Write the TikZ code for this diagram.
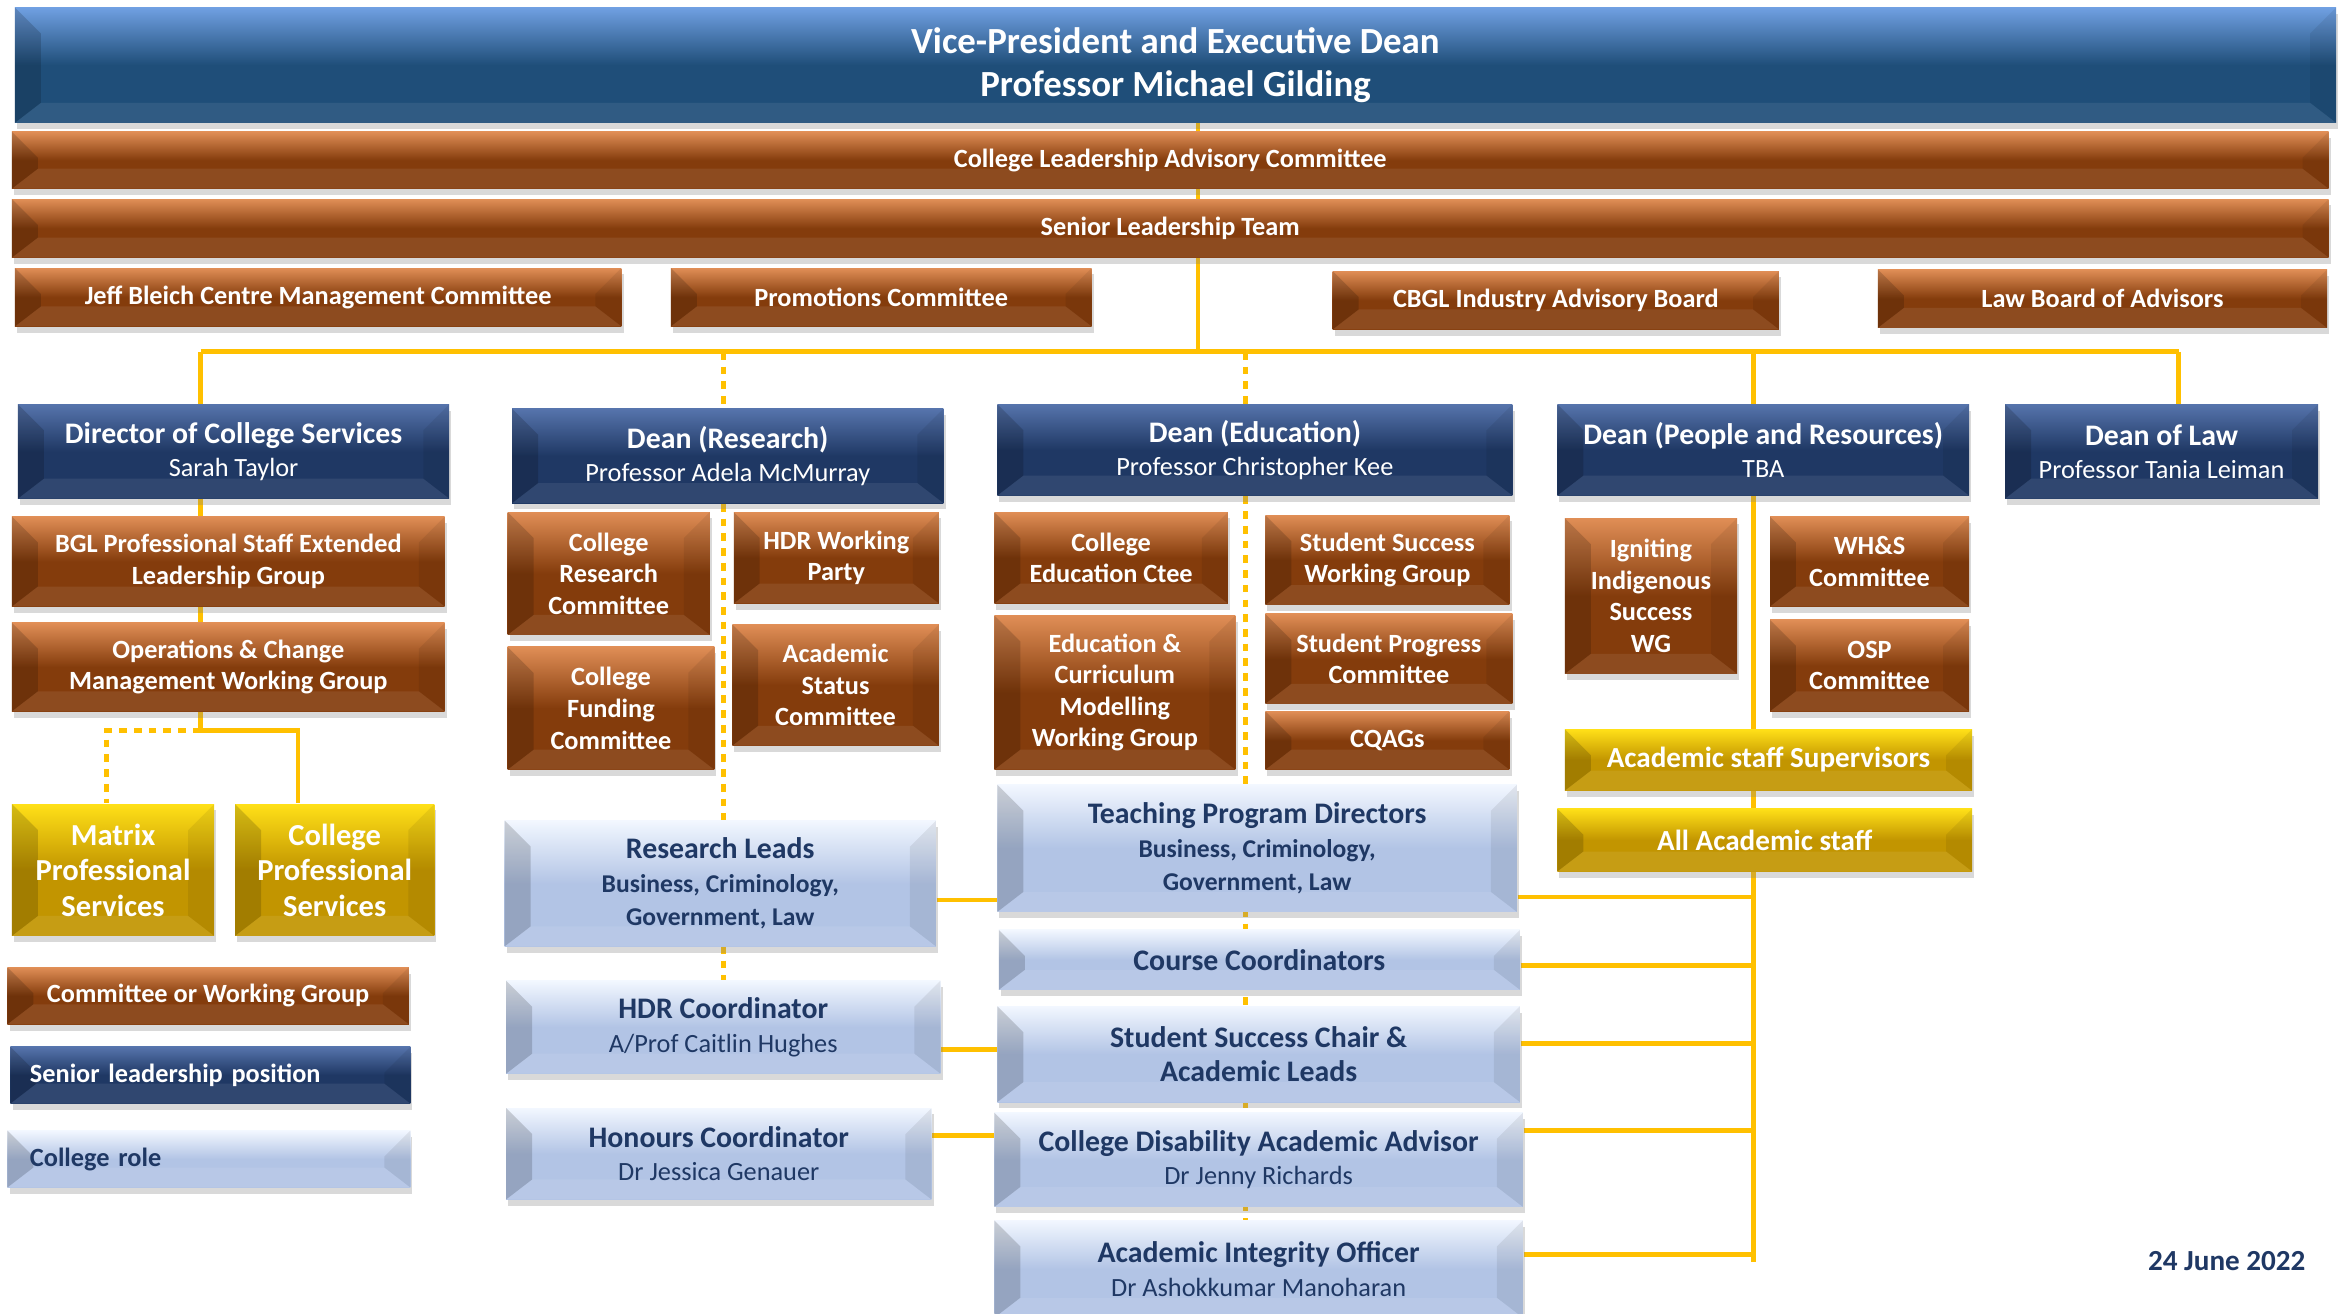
\documentclass[tikz,border=0pt]{standalone}
\usepackage{fontspec}
\setmainfont{Carlito}
\usetikzlibrary{positioning,shadows,backgrounds,calc}

\definecolor{vpblue}{RGB}{31,78,121}
\definecolor{vptop}{RGB}{112,160,226}
\definecolor{ctteorange}{RGB}{132,60,12}
\definecolor{ctteorangetop}{RGB}{224,142,86}
\definecolor{seniornavy}{RGB}{31,56,100}
\definecolor{seniortop}{RGB}{86,116,172}
\definecolor{rolebase}{RGB}{178,196,229}
\definecolor{roletop}{RGB}{242,247,255}
\definecolor{staffgold}{RGB}{194,149,0}
\definecolor{stafftop}{RGB}{255,224,24}
\definecolor{linkgold}{RGB}{255,192,0}

\newcommand{\ctteFont}{\fontsize{7.5}{9}\selectfont\bfseries}
\newcommand{\headFont}{\fontsize{8.5}{9.5}\selectfont\bfseries}
\newcommand{\nameFont}{\fontsize{7.5}{9.5}\selectfont\mdseries}
\newcommand{\subFont}{\fontsize{7.3}{9.5}\selectfont\bfseries}

\tikzset{
boxw/.style={minimum width=#1*0.015cm},
boxh/.style={minimum height=#1*0.015cm},
bevel/.style={path picture={
	\fill[black,opacity=.16] (path picture bounding box.north west) -- ++(.26cm,-.26cm)
	-- ($(path picture bounding box.south west)+(.26cm,.2cm)$) -- (path picture bounding box.south west) -- cycle;
	\fill[black,opacity=.07] (path picture bounding box.north east) -- ++(-.26cm,-.26cm)
	-- ($(path picture bounding box.south east)+(-.26cm,.2cm)$) -- (path picture bounding box.south east) -- cycle;
	\fill[white,opacity=.08] (path picture bounding box.south west) -- ++(.26cm,.2cm)
	-- ($(path picture bounding box.south east)+(-.26cm,.2cm)$) -- (path picture bounding box.south east) -- cycle;
}}
}
\tikzstyle{box} = [
rectangle,
inner sep=0pt,
align=center,
drop shadow={opacity=0.3,shadow xshift=0.6pt,shadow yshift=-1.8pt},
bevel
]
\tikzstyle{vp} = [
box,
top color=vptop,
bottom color=vpblue,
middle color=vpblue,
text=white,
font=\fontsize{10.5}{12.4}\selectfont\bfseries
]
\tikzstyle{committee} = [
box,
top color=ctteorangetop,
bottom color=ctteorange,
middle color=ctteorange,
text=white,
font=\ctteFont
]
\tikzstyle{senior} = [
box,
top color=seniortop,
bottom color=seniornavy,
middle color=seniornavy,
text=white,
font=\nameFont
]
\tikzstyle{role} = [
box,
top color=roletop,
bottom color=rolebase,
middle color=rolebase,
text=seniornavy,
font=\nameFont
]
\tikzstyle{staff} = [
box,
top color=stafftop,
bottom color=staffgold,
middle color=staffgold,
text=white,
font=\fontsize{8.7}{10.1}\selectfont\bfseries
]
\tikzstyle{link} = [draw=linkgold, line width=1.4pt]
\tikzstyle{dotlink} = [link, dash pattern=on 2.2pt off 2pt]

\begin{document}
\begin{tikzpicture}[x=0.015cm,y=-0.015cm]
	\useasboundingbox (0,0) rectangle (1568,877);
	
	% top of the college
	\node[vp,boxw=1550,boxh=77] (vp) at (785,43.5) {Vice-President and Executive Dean\\Professor Michael Gilding};
	\node[committee,boxw=1547,boxh=38] (clac) at (781.5,107) {College Leadership Advisory Committee};
	\node[committee,boxw=1547,boxh=39] (slt) at (781.5,152.5) {Senior Leadership Team};
	\node[committee,boxw=405,boxh=39] (jbc) at (212.5,198.5) {Jeff Bleich Centre Management Committee};
	\node[committee,boxw=281,boxh=39] (promo) at (588.5,198.5) {Promotions Committee};
	\node[committee,boxw=298,boxh=39] (cbgl) at (1039,200.5) {CBGL Industry Advisory Board};
	\node[committee,boxw=300,boxh=39] (lawb) at (1404,199.5) {Law Board of Advisors};
	
	% senior leadership
	\node[senior,boxw=288,boxh=63] (dcs) at (156,301.5) {{\headFont Director of College Services}\\Sarah Taylor};
	\node[senior,boxw=288,boxh=63] (dres) at (486,304.5) {{\headFont Dean (Research)}\\Professor Adela McMurray};
	\node[senior,boxw=344,boxh=61] (dedu) at (838,300.5) {{\headFont Dean (Education)}\\Professor Christopher Kee};
	\node[senior,boxw=275,boxh=61] (dpr) at (1177.5,300.5) {{\headFont Dean (People and Resources)}\\TBA};
	\node[senior,boxw=209,boxh=63] (dlaw) at (1443.5,301.5) {{\headFont Dean of Law}\\Professor Tania Leiman};
	
	% college services
	\node[committee,boxw=289,boxh=60] (bgl) at (152.5,375) {BGL Professional Staff Extended\\Leadership Group};
	\node[committee,boxw=289,boxh=59] (ops) at (152.5,445.5) {Operations \& Change\\Management Working Group};
	\node[staff,boxw=135,boxh=88] (mps) at (75.5,581) {Matrix\\Professional\\Services};
	\node[staff,boxw=133,boxh=88] (cps) at (223.5,581) {College\\Professional\\Services};
	
	% legend
	\node[committee,boxw=268,boxh=38] (legc) at (139,665) {Committee or Working Group};
	\node[senior,boxw=267,boxh=38,inner xsep=0.195cm,text width=3.615cm,align=left,font=\ctteFont] (legs) at (140.5,718) {Senior leadership position};
	\node[role,boxw=269,boxh=38,inner xsep=0.225cm,text width=3.585cm,align=left,font=\ctteFont] (legr) at (139.5,774) {College role};
	
	% research
	\node[committee,boxw=135,boxh=82] (crc) at (406.5,383) {College\\Research\\Committee};
	\node[committee,boxw=137,boxh=61] (hdrwp) at (558.5,372.5) {HDR Working\\Party};
	\node[committee,boxw=138,boxh=82] (cfc) at (408,473) {College\\Funding\\Committee};
	\node[committee,boxw=138,boxh=81] (asc) at (558,457.5) {Academic\\Status\\Committee};
	\node[role,boxw=288,boxh=84] (rleads) at (481,590) {{\headFont Research Leads}\\{\subFont Business, Criminology,}\\{\subFont Government, Law}};
	\node[role,boxw=290,boxh=62] (hdrc) at (483,686) {{\headFont HDR Coordinator}\\A/Prof Caitlin Hughes};
	\node[role,boxw=284,boxh=61] (honc) at (480,770.5) {{\headFont Honours Coordinator}\\Dr Jessica Genauer};
	
	% education
	\node[committee,boxw=156,boxh=61] (cec) at (742,372.5) {College\\Education Ctee};
	\node[committee,boxw=163,boxh=60] (sswg) at (926.5,374) {Student Success\\Working Group};
	\node[committee,boxw=161,boxh=103] (ecm) at (744.5,462.5) {Education \&\\Curriculum\\Modelling\\Working Group};
	\node[committee,boxw=165,boxh=60] (spc) at (927.5,440) {Student Progress\\Committee};
	\node[committee,boxw=163,boxh=39] (cqag) at (926.5,494.5) {CQAGs};
	\node[role,boxw=347,boxh=85] (tpd) at (839.5,566.5) {{\headFont Teaching Program Directors}\\{\subFont Business, Criminology,}\\{\subFont Government, Law}};
	\node[role,boxw=348,boxh=40,font=\headFont] (ccoord) at (841,641) {Course Coordinators};
	\node[role,boxw=349,boxh=64,font=\headFont] (sscal) at (840.5,704) {Student Success Chair \&\\Academic Leads};
	\node[role,boxw=353,boxh=63] (cdaa) at (840.5,774.5) {{\headFont College Disability Academic Advisor}\\Dr Jenny Richards};
	\node[role,boxw=353,boxh=65] (aio) at (840.5,847.5) {{\headFont Academic Integrity Officer}\\Dr Ashokkumar Manoharan};
	
	% people and resources
	\node[committee,boxw=115,boxh=104] (iisw) at (1102.5,398) {Igniting\\Indigenous\\Success\\WG};
	\node[committee,boxw=133,boxh=60] (whs) at (1248.5,375) {WH\&S\\Committee};
	\node[committee,boxw=133,boxh=61] (osp) at (1248.5,444.5) {OSP\\Committee};
	\node[staff,boxw=272,boxh=41,font=\fontsize{8.3}{10}\selectfont\bfseries] (ass) at (1181,507.5) {Academic staff Supervisors};
	\node[staff,boxw=277,boxh=42,font=\fontsize{8.3}{10}\selectfont\bfseries] (aas) at (1178.5,561) {All Academic staff};
	
	\node[anchor=east,inner sep=0pt,text=seniornavy,font=\fontsize{8.3}{10}\selectfont\bfseries] (date) at (1540,842) {24 June 2022};
	
	% reporting lines
	\begin{scope}[on background layer]
	\coordinate (hub) at (800,235);
	\coordinate (brA) at (134,235);
	\coordinate (brB) at (483,235);
	\coordinate (brC) at (832,235);
	\coordinate (brD) at (1171,235);
	\coordinate (brE) at (1455,235);
	\coordinate (splitA) at (134,488);
	\coordinate (spine) at (1171,843);
	\draw[link] (vp.south -| hub) -- (hub);
	\draw[link] (brA) -- (brE);
	\draw[link] (brA) -- (dcs.north -| brA);
	\draw[dotlink] (brB) -- (dres.north -| brB);
	\draw[dotlink] (brC) -- (dedu.north -| brC);
	\draw[link] (brD) -- (dpr.north -| brD);
	\draw[link] (brE) -- (dlaw.north -| brE);
	
	\draw[link] (dcs.south -| splitA) -- (splitA) -| ($(cps.north)+(-24.5,0)$);
	\draw[dotlink] (splitA) -| ($(mps.north)+(-4.5,0)$);
	
	\draw[dotlink] (dres.south -| brB) -- (hdrc.north -| brB);
	\draw[dotlink] (dedu.south -| brC) -- (aio.north -| brC);
	\draw[link] (dpr.south -| spine) -- (spine);
	
	\draw[link] ($(rleads.east)+(0,11)$) coordinate (r1) -- (r1 -| tpd.west);
	\draw[link] ($(hdrc.east)+(0,15)$) coordinate (r2) -- (r2 -| sscal.west);
	\draw[link] ($(honc.east)+(0,-12.5)$) coordinate (r3) -- (r3 -| cdaa.west);
	
	\draw[link] ($(tpd.east)+(0,32.5)$) coordinate (s1) -- (s1 -| spine);
	\draw[link] ($(ccoord.east)+(0,4)$) coordinate (s2) -- (s2 -| spine);
	\draw[link] ($(sscal.east)+(0,-7)$) coordinate (s3) -- (s3 -| spine);
	\draw[link] ($(cdaa.east)+(0,-19.5)$) coordinate (s4) -- (s4 -| spine);
	\draw[link] ($(aio.east)+(0,-9.5)$) coordinate (s5) -- (s5 -| spine);
	\end{scope}
\end{tikzpicture}
\end{document}
